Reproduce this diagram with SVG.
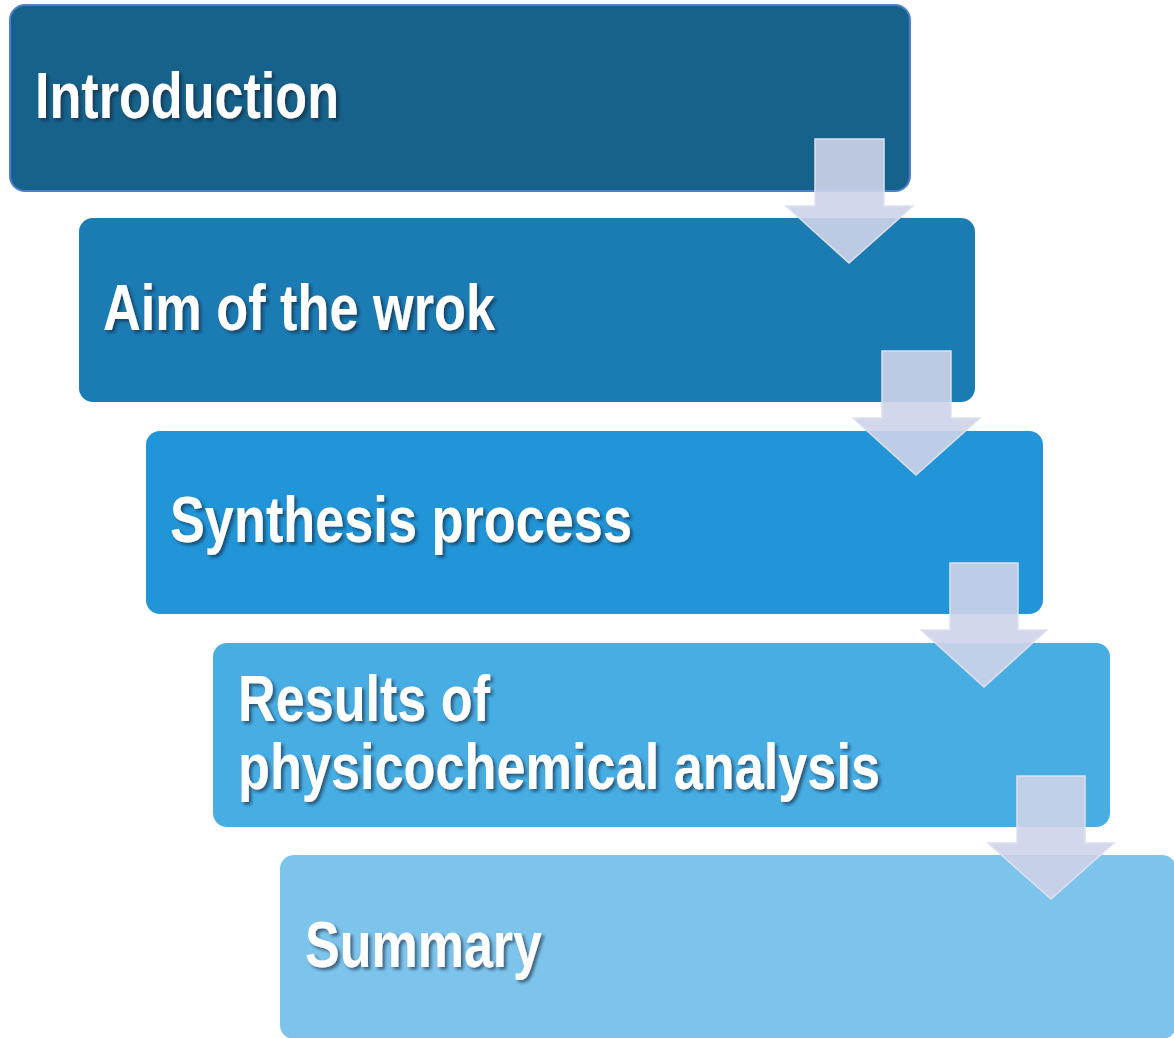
<svg xmlns="http://www.w3.org/2000/svg" width="1174" height="1038" viewBox="0 0 1174 1038">
<defs>
<filter id="sh" x="-5%" y="-20%" width="115%" height="150%">
<feDropShadow dx="2.5" dy="2.5" stdDeviation="1.5" flood-color="#0a2235" flood-opacity="0.6"/>
</filter>
<style>
.box{stroke:none}
.lbl{font-family:"Liberation Sans",Arial,sans-serif;font-weight:bold;font-size:64px;fill:#ffffff;filter:url(#sh)}
.arr{fill:#ced3e9;fill-opacity:0.9;stroke:#dde1f1;stroke-width:1.5;stroke-linejoin:miter}
</style>
</defs>
<rect width="1174" height="1038" fill="#ffffff"/>
<g id="node-introduction">
<rect class="box" x="10" y="5" width="900" height="186" rx="15" fill="#17628a" stroke="#4f7fcf" stroke-width="2" style="stroke:#4f7fcf"/>
<text class="lbl" x="35" y="118" textLength="304" lengthAdjust="spacingAndGlyphs">Introduction</text>
</g>
<g id="node-aim">
<rect class="box" x="79" y="218" width="896" height="184" rx="14" fill="#1b7bb3"/>
<text class="lbl" x="103" y="330" textLength="392" lengthAdjust="spacingAndGlyphs">Aim of the wrok</text>
</g>
<g id="node-synthesis">
<rect class="box" x="146" y="431" width="897" height="183" rx="14" fill="#2195d7"/>
<text class="lbl" x="170" y="542" textLength="462" lengthAdjust="spacingAndGlyphs">Synthesis process</text>
</g>
<g id="node-results">
<rect class="box" x="213" y="643" width="897" height="184" rx="14" fill="#47ade3"/>
<text class="lbl" x="238" y="721" textLength="252" lengthAdjust="spacingAndGlyphs">Results of</text>
<text class="lbl" x="238" y="789" textLength="642" lengthAdjust="spacingAndGlyphs">physicochemical analysis</text>
</g>
<g id="node-summary">
<rect class="box" x="280" y="855" width="896" height="184" rx="14" fill="#7dc4ec"/>
<text class="lbl" x="305" y="967" textLength="237" lengthAdjust="spacingAndGlyphs">Summary</text>
</g>
<g id="connectors">
<polygon class="arr" points="815,139 884,139 884,206 913,206 849,263 786,206 815,206"/>
<polygon class="arr" points="882,351 951,351 951,418 980,418 916,475 853,418 882,418"/>
<polygon class="arr" points="950,563 1018,563 1018,630 1047,630 984,687 921,630 950,630"/>
<polygon class="arr" points="1017,776 1085,776 1085,843 1114,843 1051,899 988,843 1017,843"/>
</g>
</svg>
